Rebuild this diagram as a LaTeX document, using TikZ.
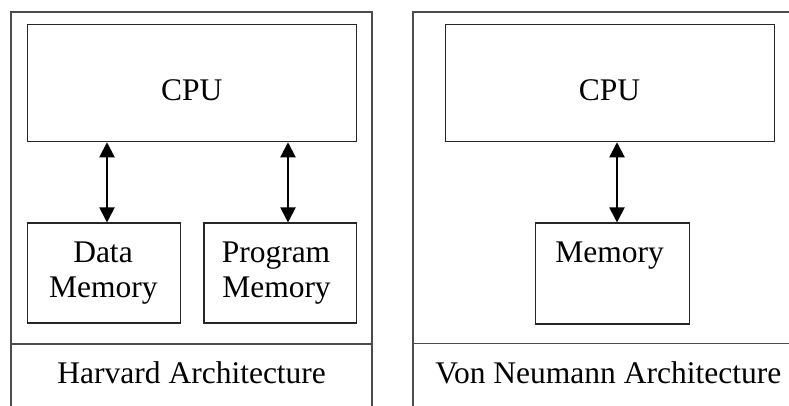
\documentclass[tikz,border=0pt]{standalone}
\usepackage{fontspec}
\setmainfont{Liberation Serif}
\usetikzlibrary{arrows.meta}
\begin{document}
\begin{tikzpicture}[x=1pt,y=-1pt,
  box/.style={draw=black!85, line width=1.1pt, inner sep=0pt},
  frame/.style={draw=black!70, line width=1.1pt},
  lbl/.style={anchor=base, inner sep=0pt, font=\fontsize{31.5}{35.5}\selectfont, align=center},
  arr/.style={{Triangle[length=15pt,width=15pt]}-{Triangle[length=15pt,width=15pt]}, line width=2pt}]
\useasboundingbox (0,0) rectangle (789,405);
% outer frames
\draw[frame] (11,410) -- (11,12) -- (372,12) -- (372,410);
\draw[frame] (11,344) -- (372,344);
\draw[frame] (413,410) -- (413,12) -- (795,12);
\draw[frame] (413,343.5) -- (795,343.5);
% Harvard boxes
\node[box, minimum width=329pt, minimum height=117.4pt] (cpuL) at (192.2,83) {};
\node[box, minimum width=152.6pt, minimum height=100pt] (dmem) at (104,273) {};
\node[box, minimum width=152.7pt, minimum height=100pt] (pmem) at (280.3,273) {};
% Von Neumann boxes
\node[box, minimum width=329.3pt, minimum height=117.4pt] (cpuR) at (609.7,83) {};
\node[box, minimum width=154pt, minimum height=101pt] (mem) at (612.7,273.5) {};
% texts
\node[lbl] (tcpuL) at (191.7,100) {CPU};
\node[lbl] (tdata) at (103,262) {Data};
\node[lbl] (tdmem) at (103.3,297.5) {Memory};
\node[lbl] (tprog) at (276,262) {Program};
\node[lbl] (tpmem) at (276.5,297.5) {Memory};
\node[lbl] (tharv) at (191.7,383) {Harvard Architecture};
\node[lbl] (tcpuR) at (609.5,100) {CPU};
\node[lbl] (tmem) at (609.7,262) {Memory};
\node[lbl] (tvon) at (608.3,383) {Von Neumann Architecture};
% connectors
\coordinate (a1) at (107,0);
\coordinate (a2) at (288,0);
\coordinate (a3) at (617,0);
\draw[arr] (cpuL.south -| a1) -- (dmem.north -| a1);
\draw[arr] (cpuL.south -| a2) -- (pmem.north -| a2);
\draw[arr] (cpuR.south -| a3) -- (mem.north -| a3);
\end{tikzpicture}
\end{document}
